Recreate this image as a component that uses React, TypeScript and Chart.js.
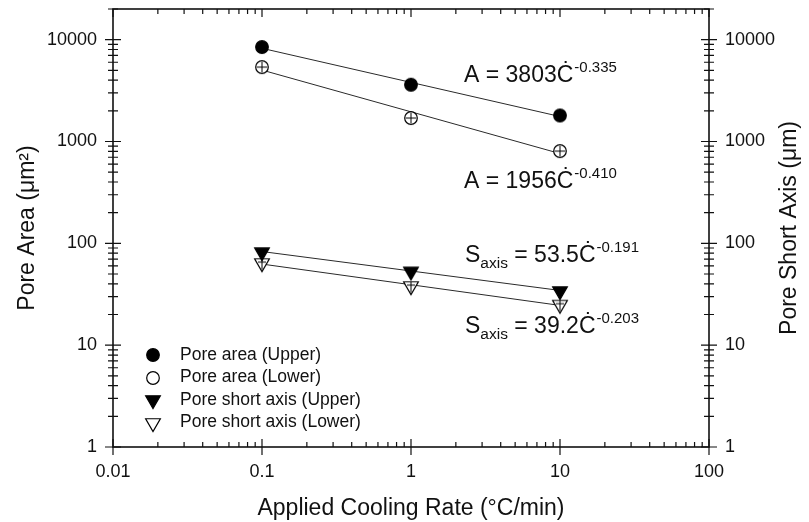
import React, { useEffect, useRef } from 'react';
import { Chart, registerables } from 'chart.js';

Chart.register(...registerables);

// ---- data -------------------------------------------------------------
const coolingRates = [0.1, 1, 10];
const poreAreaUpper = [8460, 3610, 1800];
const poreAreaLower = [5380, 1700, 805];
const shortAxisUpper = [82, 53, 34];
const shortAxisLower = [64, 38, 25];

const seriesLabels = [
  'Pore area (Upper)',
  'Pore area (Lower)',
  'Pore short axis (Upper)',
  'Pore short axis (Lower)',
];

// power-law fits: y = k * C^n
const fitSymbols = ['A', 'A', 'S', 'S'];
const fitSubscripts = ['', '', 'axis', 'axis'];
const fitCoefficients = [3803, 1956, 53.5, 39.2];
const fitExponents = [-0.335, -0.41, -0.191, -0.203];
const fitCoefficientText = ['3803', '1956', '53.5', '39.2'];
const fitExponentText = ['-0.335', '-0.410', '-0.191', '-0.203'];
const fitRange = [0.1, 10];

const xTickValues = [0.01, 0.1, 1, 10, 100];
const xTickLabels = ['0.01', '0.1', '1', '10', '100'];
const yTickValues = [1, 10, 100, 1000, 10000];
const yTickLabels = ['1', '10', '100', '1000', '10000'];

const rightAxisTitle = 'Pore Short Axis (μm)';

// ---- styling ------------------------------------------------------------
const FONT = "'Liberation Sans', Arial, sans-serif";
const INK = '#111';
const W = 809;
const H = 522;

// equation label anchors, relative to the chart area's top-left corner
const equationAnchors = [
  { dx: 351, dy: 73 },
  { dx: 351, dy: 179 },
  { dx: 352, dy: 253 },
  { dx: 352, dy: 324 },
];

const isPowerOfTen = (v: number) => {
  const l = Math.log10(v);
  return Math.abs(l - Math.round(l)) < 1e-9;
};

const labelFor = (values: number[], labels: string[]) => (v: number | string) => {
  const n = Number(v);
  if (!isPowerOfTen(n)) return '';
  const i = values.findIndex((t) => Math.abs(t - n) / t < 1e-6);
  return i >= 0 ? labels[i] : '';
};

type Shape = 'circle' | 'triangle';

function makeMarker(shape: Shape, filled: boolean, cross: boolean): HTMLCanvasElement {
  const s = 24;
  const c = document.createElement('canvas');
  c.width = s;
  c.height = s;
  const g = c.getContext('2d')!;
  const cx = s / 2;
  const cy = s / 2;
  g.lineWidth = 1.2;
  g.strokeStyle = '#000';
  g.fillStyle = filled ? '#000' : '#fff';
  g.beginPath();
  if (shape === 'circle') {
    const r = 6.3;
    g.arc(cx, cy, r, 0, Math.PI * 2);
    g.fill();
    g.stroke();
    if (cross) {
      g.beginPath();
      g.moveTo(cx - r + 1, cy);
      g.lineTo(cx + r - 1, cy);
      g.moveTo(cx, cy - r + 1);
      g.lineTo(cx, cy + r - 1);
      g.lineWidth = 1;
      g.stroke();
    }
  } else {
    const r = 8.5;
    const hw = r * Math.sin(Math.PI / 3);
    g.moveTo(cx - hw, cy - r / 2);
    g.lineTo(cx + hw, cy - r / 2);
    g.lineTo(cx, cy + r);
    g.closePath();
    g.fill();
    g.stroke();
    if (cross) {
      g.beginPath();
      g.moveTo(cx - 4, cy - 1);
      g.lineTo(cx + 4, cy - 1);
      g.moveTo(cx, cy - r / 2);
      g.lineTo(cx, cy + r - 2);
      g.lineWidth = 1;
      g.stroke();
    }
  }
  return c;
}

// axis frame with ticks crossing the left/right/bottom axes
const framePlugin = {
  id: 'frameTicks',
  afterDraw(chart: any) {
    const { ctx, chartArea: a, scales } = chart;
    ctx.save();
    ctx.strokeStyle = INK;
    ctx.lineWidth = 1.6;
    ctx.strokeRect(a.left, a.top, a.right - a.left, a.bottom - a.top);

    const logValues = (min: number, max: number) => {
      const out: { v: number; major: boolean }[] = [];
      for (let d = Math.floor(Math.log10(min)); d <= Math.ceil(Math.log10(max)); d++) {
        for (let m = 1; m <= 9; m++) {
          const v = m * Math.pow(10, d);
          if (v >= min * 0.9999 && v <= max * 1.0001) out.push({ v, major: m === 1 });
        }
      }
      return out;
    };

    ctx.lineWidth = 1.2;
    ctx.beginPath();
    const xs = scales.x;
    for (const t of logValues(xs.min, xs.max)) {
      const px = xs.getPixelForValue(t.v);
      const len = t.major ? 8 : 5;
      ctx.moveTo(px, a.bottom + (t.major ? 8 : 0));
      ctx.lineTo(px, a.bottom - len);
      ctx.moveTo(px, a.top);
      ctx.lineTo(px, a.top + len);
    }
    const ys = scales.y;
    for (const t of logValues(ys.min, ys.max)) {
      const py = ys.getPixelForValue(t.v);
      const len = t.major ? 8 : 5;
      ctx.moveTo(a.left - len, py);
      ctx.lineTo(a.left + len, py);
    }
    const y2 = scales.y2;
    for (const t of logValues(y2.min, y2.max)) {
      const py = y2.getPixelForValue(t.v);
      const len = t.major ? 8 : 5;
      ctx.moveTo(a.right - len, py);
      ctx.lineTo(a.right + len, py);
    }
    ctx.stroke();
    ctx.restore();
  },
};

// right-hand axis title, reading bottom-to-top like the left one
const rightTitlePlugin = {
  id: 'rightTitle',
  afterDraw(chart: any) {
    const { ctx, chartArea: a } = chart;
    ctx.save();
    ctx.translate(a.right + 81, (a.top + a.bottom) / 2);
    ctx.rotate(-Math.PI / 2);
    ctx.font = `23px ${FONT}`;
    ctx.fillStyle = INK;
    ctx.textAlign = 'center';
    ctx.textBaseline = 'middle';
    ctx.fillText(rightAxisTitle, 0, 0);
    ctx.restore();
  },
};

export default function App() {
  const canvasRef = useRef<HTMLCanvasElement | null>(null);

  useEffect(() => {
    const canvas = canvasRef.current;
    if (!canvas) return;

    const shapes: Shape[] = ['circle', 'circle', 'triangle', 'triangle'];
    const filled = [true, false, true, false];
    const plotMarkers = shapes.map((s, i) => makeMarker(s, filled[i], !filled[i]));
    const legendMarkers = shapes.map((s, i) => makeMarker(s, filled[i], false));
    const seriesValues = [poreAreaUpper, poreAreaLower, shortAxisUpper, shortAxisLower];

    const markerSets = seriesValues.map((vals, i) => ({
      label: seriesLabels[i],
      data: coolingRates.map((x, j) => ({ x, y: vals[j] })),
      pointStyle: plotMarkers[i],
      pointRadius: 6,
      showLine: false,
    }));

    const fitSets = fitCoefficients.map((k, i) => ({
      label: 'fit' + i,
      data: fitRange.map((x) => ({ x, y: k * Math.pow(x, fitExponents[i]) })),
      showLine: true,
      borderColor: '#2a2a2a',
      borderWidth: 1,
      pointRadius: 0,
      fill: false,
    }));

    const legendPlugin = {
      id: 'insetLegend',
      afterDraw(chart: any) {
        const { ctx, chartArea: a } = chart;
        ctx.save();
        ctx.font = `17.5px ${FONT}`;
        ctx.fillStyle = INK;
        ctx.textBaseline = 'middle';
        seriesLabels.forEach((label, i) => {
          const y = a.bottom - 92 + i * 22.5;
          const m = legendMarkers[i];
          ctx.drawImage(m, Math.round(a.left + 40 - m.width / 2), Math.round(y - m.height / 2));
          ctx.fillText(label, a.left + 67, y);
        });
        ctx.restore();
      },
    };

    const equationPlugin = {
      id: 'fitEquations',
      afterDraw(chart: any) {
        const { ctx, chartArea: a } = chart;
        ctx.save();
        ctx.fillStyle = INK;
        ctx.textBaseline = 'alphabetic';
        fitSymbols.forEach((sym, i) => {
          const base = a.top + equationAnchors[i].dy;
          let x = a.left + equationAnchors[i].dx;
          ctx.font = `23px ${FONT}`;
          ctx.fillText(sym, x, base);
          x += ctx.measureText(sym).width;
          if (fitSubscripts[i]) {
            ctx.font = `15.5px ${FONT}`;
            ctx.fillText(fitSubscripts[i], x, base + 6);
            x += ctx.measureText(fitSubscripts[i]).width;
            ctx.font = `23px ${FONT}`;
          }
          const main = ` = ${fitCoefficientText[i]}\u010A`;
          ctx.fillText(main, x, base);
          x += ctx.measureText(main).width;
          ctx.font = `15px ${FONT}`;
          ctx.fillText(fitExponentText[i], x + 1, base - 10.5);
        });
        ctx.restore();
      },
    };

    const chart = new Chart(canvas, {
      type: 'scatter',
      data: { datasets: [...markerSets, ...fitSets] as any },
      options: {
        responsive: false,
        animation: false,
        devicePixelRatio: 1,
        layout: { padding: { top: 9, left: 0, right: 0, bottom: 0 } },
        plugins: {
          legend: { display: false },
          tooltip: { enabled: false },
        },
        scales: {
          x: {
            type: 'logarithmic',
            position: 'bottom',
            min: 0.01,
            max: 100,
            grid: { display: false, drawTicks: false },
            border: { display: false },
            ticks: {
              autoSkip: false,
              maxRotation: 0,
              padding: 14,
              color: INK,
              font: { family: FONT, size: 18 },
              callback: labelFor(xTickValues, xTickLabels),
            },
            title: {
              display: true,
              text: 'Applied Cooling Rate (°C/min)',
              color: INK,
              font: { family: FONT, size: 23 },
              padding: { top: 0, bottom: 0 },
            },
            afterFit: (s: any) => {
              s.height = 75;
              s.paddingLeft = 0;
              s.paddingRight = 0;
            },
          },
          y: {
            type: 'logarithmic',
            position: 'left',
            min: 1,
            max: 20000,
            grid: { display: false, drawTicks: false },
            border: { display: false },
            ticks: {
              autoSkip: false,
              padding: 16,
              color: INK,
              font: { family: FONT, size: 18 },
              callback: labelFor(yTickValues, yTickLabels),
            },
            title: {
              display: true,
              text: 'Pore Area (μm²)',
              color: INK,
              font: { family: FONT, size: 23 },
              padding: { top: 14, bottom: 0 },
            },
            afterFit: (s: any) => {
              s.width = 113;
              s.paddingTop = 0;
              s.paddingBottom = 0;
            },
          },
          y2: {
            type: 'logarithmic',
            position: 'right',
            min: 1,
            max: 20000,
            grid: { display: false, drawTicks: false },
            border: { display: false },
            ticks: {
              autoSkip: false,
              padding: 16,
              color: INK,
              font: { family: FONT, size: 18 },
              callback: labelFor(yTickValues, yTickLabels),
            },
            title: { display: false },
            afterFit: (s: any) => {
              s.width = 100;
              s.paddingTop = 0;
              s.paddingBottom = 0;
            },
          },
        } as any,
      },
      plugins: [framePlugin, legendPlugin, equationPlugin, rightTitlePlugin],
    });

    return () => chart.destroy();
  }, []);

  return (
    <div style={{ position: 'fixed', left: 0, top: 0, width: W, height: H, background: '#fff' }}>
      <canvas ref={canvasRef} width={W} height={H} style={{ display: 'block' }} />
    </div>
  );
}
